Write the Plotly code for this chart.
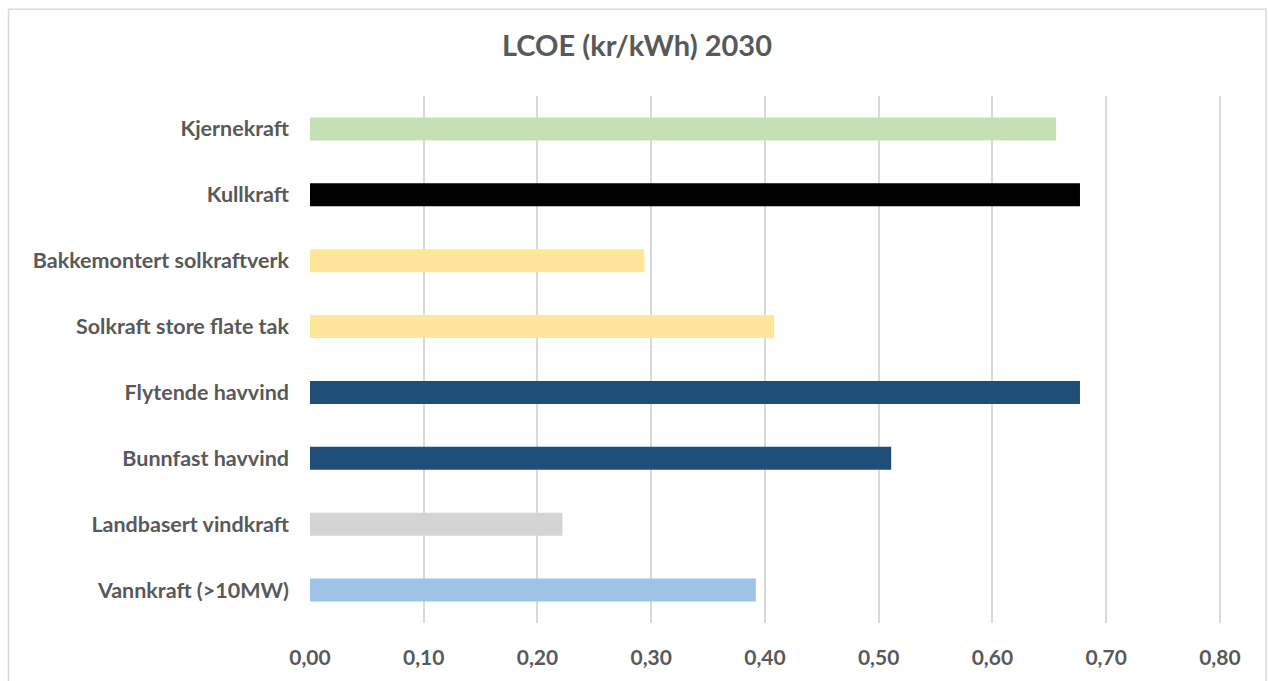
import plotly.graph_objects as go

# LCOE 2030 per technology (kr/kWh), listed top to bottom
technologies = [
    "Kjernekraft",
    "Kullkraft",
    "Bakkemontert solkraftverk",
    "Solkraft store flate tak",
    "Flytende havvind",
    "Bunnfast havvind",
    "Landbasert vindkraft",
    "Vannkraft (>10MW)",
]
lcoe_2030 = [0.656, 0.677, 0.294, 0.408, 0.677, 0.511, 0.222, 0.392]
bar_colors = [
    "#C5E0B4",
    "#000000",
    "#FFE699",
    "#FFE699",
    "#1F4E79",
    "#1F4E79",
    "#D4D4D4",
    "#9DC3E6",
]
x_ticks = [0.0, 0.1, 0.2, 0.3, 0.4, 0.5, 0.6, 0.7, 0.8]

W, H = 1268, 681
X_MAX = 0.801  # a hair past 0.80 so the last gridline is drawn
ML, MT, MB = 310, 96, 54
MR = W - ML - round(910 * X_MAX / 0.8)
TEXT = "#595959"
FONT = "Lato"

fig = go.Figure(
    go.Bar(
        x=lcoe_2030,
        y=technologies,
        orientation="h",
        marker=dict(color=bar_colors, line=dict(width=0)),
        hoverinfo="x+y",
    )
)

# outer chart frame (light grey border), expressed in paper coordinates
pw, ph = W - ML - MR, H - MT - MB
def px_x(v):
    return (v - ML) / pw
def px_y(v):
    return (H - MB - v) / ph

fig.add_shape(
    type="rect", xref="paper", yref="paper",
    x0=px_x(8.5), x1=px_x(1266), y0=px_y(700), y1=px_y(8.5),
    line=dict(color="#D9D9D9", width=1.5), fillcolor="rgba(0,0,0,0)", layer="below",
)

fig.update_layout(
    width=W, height=H,
    margin=dict(l=ML, r=MR, t=MT, b=MB, pad=0),
    paper_bgcolor="white", plot_bgcolor="white",
    separators=",.",
    bargap=0.65,
    showlegend=False,
    title=dict(
        text="<b>LCOE (kr/kWh) 2030</b>",
        x=637 / W, xref="container", xanchor="center",
        y=1 - 46 / H, yref="container", yanchor="middle",
        font=dict(family=FONT, size=29, color=TEXT),
    ),
    font=dict(family=FONT, color=TEXT),
    xaxis=dict(
        range=[0, X_MAX],
        tickvals=x_ticks,
        tickformat=".2f",
        showgrid=True, gridcolor="#D9D9D9", gridwidth=1.5,
        zeroline=False, showline=False,
        ticks="", ticklabelstandoff=20,
        tickfont=dict(family=FONT, size=21, color=TEXT, weight="bold"),
        fixedrange=True,
    ),
    yaxis=dict(
        autorange="reversed",
        showgrid=False, zeroline=False, showline=False,
        ticks="", ticklabelstandoff=20,
        tickfont=dict(family=FONT, size=21.5, color=TEXT, weight="bold"),
        fixedrange=True,
    ),
)

fig.write_html("out.html")
